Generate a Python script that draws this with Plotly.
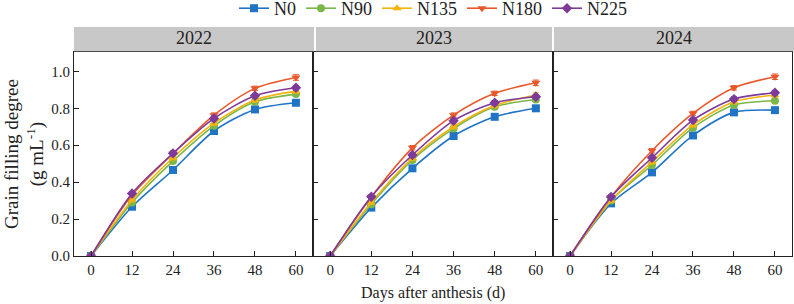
import plotly.graph_objects as go

days = [0, 12, 24, 36, 48, 60]
years = ["2022", "2023", "2024"]
treatments = ["N0", "N90", "N135", "N180", "N225"]

# 2022
y2022_N0 = [0, 0.267, 0.466, 0.677, 0.794, 0.830]
y2022_N90 = [0, 0.290, 0.514, 0.705, 0.835, 0.877]
y2022_N135 = [0, 0.303, 0.532, 0.720, 0.845, 0.893]
y2022_N180 = [0, 0.330, 0.555, 0.763, 0.908, 0.967]
y2022_N225 = [0, 0.339, 0.556, 0.745, 0.868, 0.911]
# 2023
y2023_N0 = [0, 0.262, 0.475, 0.650, 0.754, 0.800]
y2023_N90 = [0, 0.280, 0.520, 0.690, 0.808, 0.848]
y2023_N135 = [0, 0.290, 0.530, 0.700, 0.815, 0.872]
y2023_N180 = [0, 0.320, 0.586, 0.763, 0.881, 0.938]
y2023_N225 = [0, 0.321, 0.547, 0.733, 0.830, 0.863]
# 2024
y2024_N0 = [0, 0.285, 0.453, 0.653, 0.778, 0.790]
y2024_N90 = [0, 0.300, 0.493, 0.695, 0.818, 0.841]
y2024_N135 = [0, 0.300, 0.510, 0.710, 0.835, 0.872]
y2024_N180 = [0, 0.320, 0.570, 0.772, 0.911, 0.971]
y2024_N225 = [0, 0.320, 0.532, 0.736, 0.850, 0.884]

err_N0 = [0, 0.012, 0.015, 0.015, 0.015, 0.012]
err_N90 = [0, 0.010, 0.010, 0.012, 0.012, 0.010]
err_N135 = [0, 0.010, 0.012, 0.012, 0.012, 0.012]
err_N180 = [0, 0.010, 0.012, 0.012, 0.012, 0.015]
err_N225 = [0, 0.010, 0.012, 0.012, 0.012, 0.012]

data = {
    "2022": [y2022_N0, y2022_N90, y2022_N135, y2022_N180, y2022_N225],
    "2023": [y2023_N0, y2023_N90, y2023_N135, y2023_N180, y2023_N225],
    "2024": [y2024_N0, y2024_N90, y2024_N135, y2024_N180, y2024_N225],
}
errs = [err_N0, err_N90, err_N135, err_N180, err_N225]
colors = ["#1f74c6", "#7ab648", "#f2b40c", "#e8582a", "#7e3a98"]
symbols = ["square", "circle", "triangle-up", "triangle-down", "diamond"]

W, H = 794, 304
L, R, T, B = 74, 792, 52, 256
pw = R - L
ph = B - T
bounds = [74, 313, 553, 792]
domains = [[(bounds[i] - L) / pw, (bounds[i + 1] - L) / pw] for i in range(3)]

fig = go.Figure()
for p, yr in enumerate(years):
    xa = "x" if p == 0 else f"x{p+1}"
    ya = "y" if p == 0 else f"y{p+1}"
    for k, tr in enumerate(treatments):
        fig.add_trace(go.Scatter(
            x=days, y=data[yr][k], xaxis=xa, yaxis=ya,
            mode="lines+markers", name=tr, showlegend=(p == 0),
            line=dict(color=colors[k], width=1.6, shape="spline", smoothing=0.8),
            marker=dict(symbol=symbols[k], size=8, color=colors[k]),
            error_y=dict(type="data", array=errs[k], color=colors[k], thickness=1, width=3),
        ))

font_fam = "Liberation Serif, Times New Roman, serif"
layout = dict(
    width=W, height=H,
    margin=dict(l=L, r=W - R, t=T, b=H - B, autoexpand=False),
    plot_bgcolor="white", paper_bgcolor="white",
    font=dict(family=font_fam, size=15, color="#222"),
    legend=dict(orientation="h", x=0.5, xanchor="center", y=1 + (T + 10) / ph, yanchor="top",
                font=dict(size=18, family=font_fam),
                itemwidth=30, tracegroupgap=0, bgcolor="rgba(0,0,0,0)"),
    showlegend=True,
)
for p in range(3):
    xk = "xaxis" if p == 0 else f"xaxis{p+1}"
    yk = "yaxis" if p == 0 else f"yaxis{p+1}"
    layout[xk] = dict(domain=domains[p], range=[-5, 65], tickvals=days,
                      ticks="inside", ticklen=5, tickcolor="#222",
                      showline=True, linecolor="#222", linewidth=1.2, mirror=True,
                      showgrid=False, zeroline=False, anchor="y" if p == 0 else f"y{p+1}",
                      tickfont=dict(size=15, family=font_fam))
    layout[yk] = dict(domain=[0, 1], range=[0, 1.105], tickvals=[0, 0.2, 0.4, 0.6, 0.8, 1.0],
                      tickformat=".1f", ticks="inside", ticklen=5, tickcolor="#222",
                      showline=True, linecolor="#222", linewidth=1.2, mirror=True,
                      showgrid=False, zeroline=False, showticklabels=(p == 0),
                      anchor="x" if p == 0 else f"x{p+1}",
                      tickfont=dict(size=15, family=font_fam))
fig.update_layout(**layout)

# strips
strip_px = [(74, 314), (316, 552), (554, 794)]
sh = 25 / ph
for i, (a, b) in enumerate(strip_px):
    fig.add_shape(type="rect", xref="paper", yref="paper",
                  x0=(a - L) / pw, x1=(b - L) / pw, y0=1.004, y1=1 + sh,
                  fillcolor="#c8c8c8", line=dict(width=0), layer="above")
    fig.add_annotation(text=years[i], xref="paper", yref="paper",
                       x=((a + b) / 2 - L) / pw, y=1 + sh / 2 + 0.005, showarrow=False,
                       font=dict(size=18, family=font_fam, color="#222"),
                       xanchor="center", yanchor="middle")

fig.add_annotation(text="Days after anthesis (d)", xref="paper", yref="paper",
                   x=0.5, y=-(293 - B) / ph, showarrow=False,
                   font=dict(size=16, family=font_fam, color="#222"),
                   xanchor="center", yanchor="middle")
fig.add_annotation(text="Grain filling degree<br>(g mL<sup>-1</sup>)", xref="paper", yref="paper",
                   x=-(L - 24) / pw, y=0.5, showarrow=False, textangle=-90,
                   font=dict(size=19, family=font_fam, color="#222"),
                   xanchor="center", yanchor="middle")

fig.write_html("out.html")
